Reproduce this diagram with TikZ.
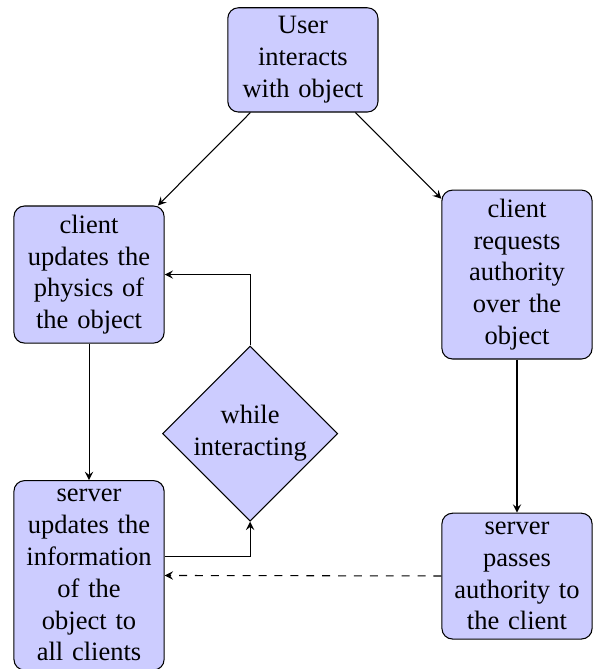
\documentclass[tikz,border=0pt]{standalone}
\usepackage{fontspec}
\setmainfont{Liberation Serif}
\usetikzlibrary{shapes.geometric,arrows,positioning}

\begin{document}
\begin{tikzpicture}[
  on grid,
  myblock/.style={
    draw,
    rectangle,
    rounded corners,
    fill=blue!20,
    text width=5em,
    text centered
    },
  mydecide/.style={
    draw,
    diamond,
    fill=blue!20,
    text width=4.5em,
    inner sep=0pt,
    text centered
    },
  myline/.style={draw, -stealth}
]

\useasboundingbox (-114.3pt,22.6pt) rectangle (109.5pt,-229.85pt);

\node[myblock] (init) {User interacts with object};

\node[myblock] [below left=81pt and 80.7pt of init]
  (update) {client updates the physics of the object};

\node[myblock] [below right=81pt and 80.8pt of init]
  (request) {client requests authority over the object};

\node[myblock] [below=113.5pt of update]
  (inform) {server updates the information of the object to all clients};

\node[myblock] [below=113.8pt of request]
  (pass) {server passes authority to the client};

\node[mydecide] [below right=60pt and 60.8pt of update]
  (decide) {while interacting};

\path[myline] (init) -- (update);
\path[myline] (init) -- (request);
\path[myline] (update) -- (inform);
\path[myline] (request) -- (pass);
\path[myline] ([yshift=7.2pt]inform.east) -| (decide);
\path[myline] (decide) |- (update);
\path[myline, dashed] (pass) -- (inform);
\end{tikzpicture}
\end{document}
